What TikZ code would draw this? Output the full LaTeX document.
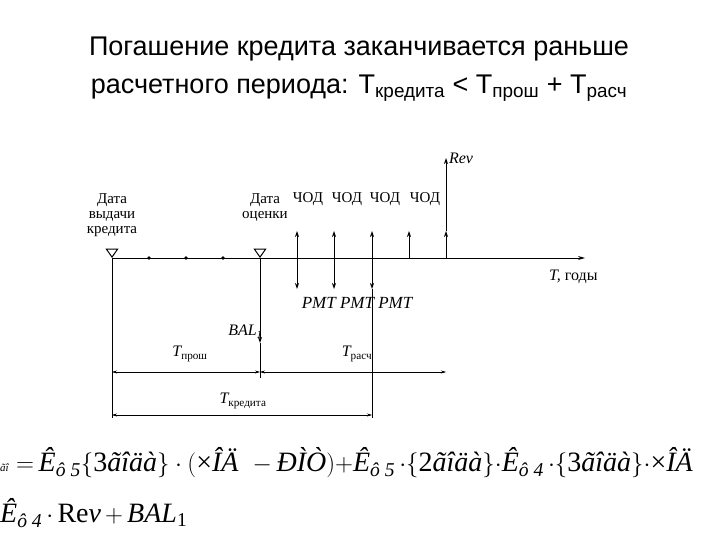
\documentclass[tikz,border=0pt]{standalone}
\usepackage{fontspec}
\setmainfont{Liberation Serif}
\newfontfamily\titlefont{Liberation Sans}
\usetikzlibrary{arrows.meta,shapes.geometric}
\tikzset{
  lbl/.style={font=\fontsize{15}{15}\selectfont, inner sep=1pt},
  ilbl/.style={font=\fontsize{16}{16}\selectfont\itshape, inner sep=1pt},
  ax/.style={line width=1pt},
  flow/.style={line width=0.8pt,-{Stealth[length=6pt,width=4pt]}},
  thin/.style={line width=0.5pt},
  dim/.style={line width=0.5pt,{Stealth[length=5pt,width=3pt]}-{Stealth[length=5pt,width=3pt]}},
  tri/.style={isosceles triangle, shape border rotate=-90, draw, line width=1pt, minimum width=10pt, minimum height=8pt, inner sep=0pt, isosceles triangle apex angle=70},
  dot/.style={circle, fill, inner sep=1.3pt}
}
\begin{document}
\begin{tikzpicture}[x=1pt,y=-1pt]
\useasboundingbox (0,0) rectangle (720,540);
% title
\node[font=\titlefont\fontsize{27}{38}\selectfont, align=center] (title) at (359,69)
 {Погашение кредита заканчивается раньше\\ расчетного периода: Т\textsubscript{кредита} < Т\textsubscript{прош} + Т\textsubscript{расч}};
% axis
\coordinate (a0) at (112,258);
\coordinate (aend) at (585,258);
\draw[ax,-{Stealth[length=7pt,width=4pt]}] (a0) -- (aend);
\node[ilbl, anchor=west] (Tg) at (548,277) {T,\upshape\ годы};
\node[tri, anchor=apex] (t1) at (112,258) {};
\node[tri, anchor=apex] (t2) at (260,258) {};
\node[dot] (d1) at (149,258) {};
\node[dot] (d2) at (186,258) {};
\node[dot] (d3) at (223,258) {};
\node[lbl, align=center, anchor=south] (l1) at (112,238) {Дата\\выдачи\\кредита};
\node[lbl, align=center, anchor=south] (l2) at (265,223) {Дата\\оценки};
% flows
\foreach \x/\n in {297/1,334/2,372/3}{
  \coordinate (u\n) at (\x,231);
  \coordinate (b\n) at (\x,258);
  \coordinate (dn\n) at (\x,289);
  \draw[flow] (b\n) -- (u\n);
  \draw[flow] (b\n) -- (dn\n);
}
\coordinate (u4) at (409,231); \coordinate (b4) at (409,258);
\draw[flow] (b4) -- (u4);
\coordinate (b5) at (446,258); \coordinate (u5a) at (446,231); \coordinate (u5) at (446,158);
\draw[flow] (b5) -- (u5a);
\draw[flow] (u5a) -- (u5);
\node[ilbl] (rev) at (461,158) {Rev};
\foreach \x/\n in {308/1,347/2,385/3,425/4}
  \node[lbl, font=\fontsize{15}{15}\selectfont] (c\n) at (\x,199) {ЧОД};
\node[ilbl, font=\fontsize{17}{17}\selectfont\itshape] (pmt) at (357,303) {PMT PMT PMT};
% BAL
\coordinate (bal0) at (260,258); \coordinate (bal1) at (260,343);
\draw[flow] (bal0) -- (bal1);
\node[ilbl, anchor=east] (bal) at (264,332) {BAL\textsubscript{1}};
% verticals
\coordinate (v1t) at (112,258); \coordinate (v1b) at (112,418);
\coordinate (v2t) at (260,343); \coordinate (v2b) at (260,378);
\coordinate (v3t) at (372,289); \coordinate (v3b) at (372,418);
\draw[thin] (v1t) -- (v1b);
\draw[thin] (v2t) -- (v2b);
\draw[thin] (v3t) -- (v3b);
% dimensions
\coordinate (p1) at (112,372); \coordinate (p2) at (260,372); \coordinate (p3) at (446,372);
\draw[dim] (p1) -- (p2);
\draw[dim] (p2) -- (p3);
\coordinate (q1) at (112,415); \coordinate (q2) at (372,415);
\draw[dim] (q1) -- (q2);
\node[ilbl] (tp) at (190,354) {T\textsubscript{\upshape прош}};
\node[ilbl] (tr) at (357,354) {T\textsubscript{\upshape расч}};
\node[ilbl] (tk) at (243,401) {T\textsubscript{\upshape кредита}};
% formula
\node[anchor=west, inner sep=0pt, font=\fontsize{28}{30}\selectfont] (f1) at (0,463)
 {\textit{\fontsize{11}{12}\selectfont ãî}$\;=$\,\textit{Ê}\textsubscript{\textit{ô 5}}$\biggl\{$3\textit{ãîäà}$\biggr\}\cdot\biggl($×\textit{ÎÄ}\ \ $-$\,\textit{ĐÌÒ}$\biggr)+$\textit{Ê}\textsubscript{\textit{ô 5}}$\,\cdot\biggl\{$2\textit{ãîäà}$\biggr\}\cdot$\textit{Ê}\textsubscript{\textit{ô 4}}$\,\cdot\biggl\{$3\textit{ãîäà}$\biggr\}\cdot$×\textit{ÎÄ}};
\node[anchor=west, inner sep=0pt, font=\fontsize{28}{30}\selectfont] (f2) at (0,513)
 {\textit{Ê}\textsubscript{\textit{ô 4}}$\,\cdot\,$Re\textit{v}$\,+\,$\textit{BAL}\textsubscript{1}};
\end{tikzpicture}
\end{document}
